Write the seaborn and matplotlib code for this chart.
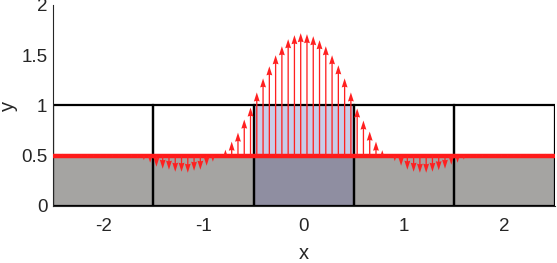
import numpy as np
import pandas as pd
import matplotlib
matplotlib.use("Agg")
import matplotlib.pyplot as plt
import seaborn as sns

sns.set_style("white")
plt.rcParams["font.family"] = ["Liberation Sans", "DejaVu Sans"]

# ---- data ----
cell_centers = [-2, -1, 0, 1, 2]
cell_edges = [-2.5, -1.5, -0.5, 0.5, 1.5, 2.5]
lower_height = [0.5, 0.5, 0.5, 0.5, 0.5]
upper_height = [0.0, 0.0, 0.5, 0.0, 0.0]
box_height = [1, 1, 1, 1, 1]
lower_colors = ["#a5a4a2", "#a5a4a2", "#8f8ea1", "#a5a4a2", "#a5a4a2"]
upper_colors = ["#c8cce8", "#c8cce8", "#c8cce8", "#c8cce8", "#c8cce8"]

base_level = 0.5
# sample positions: 80 points, spacing 1/16, centred between grid nodes
x_pts = np.arange(80) * 0.0625 - 2.46875
tip_y = [0.52, 0.52, 0.515, 0.515, 0.51, 0.51, 0.51, 0.505, 0.505, 0.50,
         0.50, 0.495, 0.49, 0.48, 0.455, 0.43, 0.39, 0.37, 0.36, 0.34,
         0.34, 0.33, 0.35, 0.36, 0.40, 0.44, 0.50, 0.56, 0.64, 0.73,
         0.86, 0.98, 1.13, 1.27, 1.39, 1.50, 1.59, 1.66, 1.70, 1.72,
         1.71, 1.69, 1.65, 1.59, 1.50, 1.40, 1.27, 1.13, 0.97, 0.85,
         0.74, 0.64, 0.555, 0.505, 0.445, 0.40, 0.36, 0.34, 0.33, 0.33,
         0.34, 0.355, 0.37, 0.41, 0.43, 0.46, 0.48, 0.49, 0.495, 0.50,
         0.505, 0.505, 0.51, 0.51, 0.51, 0.515, 0.515, 0.52, 0.52, 0.52]

df = pd.DataFrame({"x": x_pts, "tip": tip_y})
df["v"] = df["tip"] - base_level

fig = plt.figure(figsize=(5.57, 2.63), dpi=100)
ax = fig.add_axes([0.095, 0.217, 0.901, 0.764])

# cell fills
ax.bar(cell_centers, lower_height, width=1, color=lower_colors, linewidth=0, zorder=1)
ax.bar(cell_centers, upper_height, width=1, bottom=base_level, color=upper_colors,
       linewidth=0, zorder=1)
# cell outlines
ax.bar(cell_centers, box_height, width=1, fill=False, edgecolor="black",
       linewidth=1.6, zorder=2)

# base line of the arrows
sns.lineplot(x=cell_edges, y=[base_level] * len(cell_edges), color="#ff1a1a",
             linewidth=3.2, ax=ax, zorder=3)

# arrows
ax.quiver(df["x"], np.full(len(df), base_level), np.zeros(len(df)), df["v"],
          angles="xy", scale_units="xy", scale=1, color="#ff2020",
          units="dots", width=1.3, headwidth=4.5, headlength=7, headaxislength=6.5,
          zorder=4)

ax.set_xlim(-2.5, 2.5)
ax.set_ylim(0, 2)
ax.set_xticks([-2, -1, 0, 1, 2])
ax.set_xticklabels(["-2", "-1", "0", "1", "2"])
ax.set_yticks([0, 0.5, 1, 1.5, 2])
ax.set_yticklabels(["0", "0.5", "1", "1.5", "2"])
ax.tick_params(direction="in", length=4, width=0.8, colors="#262626",
               labelsize=13.5)
ax.tick_params(axis="x", pad=9)
ax.tick_params(axis="y", pad=4)
for s in ["top", "right"]:
    ax.spines[s].set_visible(False)
for s in ["left", "bottom"]:
    ax.spines[s].set_color("#262626")
    ax.spines[s].set_linewidth(0.8)
ax.set_xlabel("x", fontsize=14.5, color="#262626", labelpad=6)
ax.set_ylabel("y", fontsize=14.5, color="#262626", labelpad=2)

fig.savefig("out.png", dpi=100)
